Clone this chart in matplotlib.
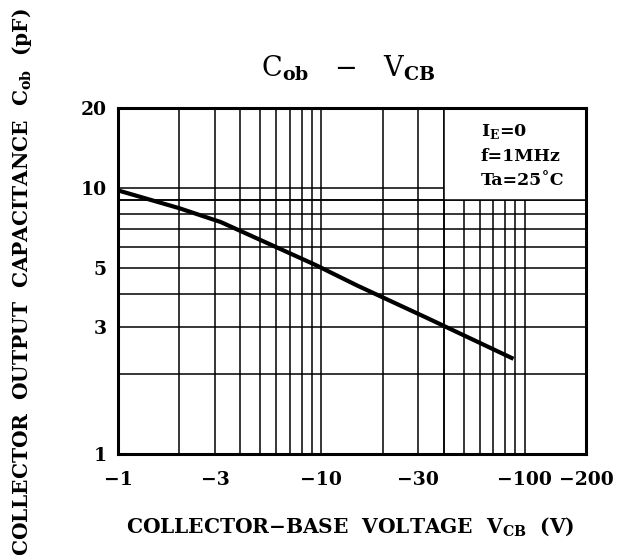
import matplotlib
matplotlib.use('Agg')
import matplotlib.pyplot as plt
from matplotlib.patches import Rectangle

# Cob - VCB curve (|VCB| in volts, Cob in pF)
vcb = [1, 2, 3.2, 5.2, 9.3, 15, 33, 88]
cob = [9.8, 8.4, 7.45, 6.3, 5.15, 4.3, 3.25, 2.28]

xticks = [1, 3, 10, 30, 100, 200]
xticklabels = ['\u22121', '\u22123', '\u221210', '\u221230', '\u2212100', '\u2212200']
yticks = [1, 3, 5, 10, 20]
yticklabels = ['1', '3', '5', '10', '20']

xgrid = [2, 3, 4, 5, 6, 7, 8, 9, 10, 20, 30, 40, 50, 60, 70, 80, 90, 100]
ygrid = [2, 3, 4, 5, 6, 7, 8, 9, 10]

plt.rcParams['font.family'] = 'DejaVu Serif'
plt.rcParams['mathtext.fontset'] = 'custom'
plt.rcParams['mathtext.rm'] = 'DejaVu Serif:bold'

fig = plt.figure(figsize=(6.36, 5.55), dpi=100)
ax = fig.add_axes([118 / 636, 101 / 555, 468 / 636, 346 / 555])
ax.set_xscale('log')
ax.set_yscale('log')
ax.set_xlim(1, 200)
ax.set_ylim(1, 20)

# grid lines
for x in xgrid:
    ax.axvline(x, color='black', lw=1.1, zorder=1)
for y in ygrid:
    ax.axhline(y, color='black', lw=1.1, zorder=1)

# blank box for the conditions text
ax.add_patch(Rectangle((40, 9), 200 - 40, 20 - 9, facecolor='white',
                       edgecolor='none', zorder=1.2))
ax.axvline(40, color='black', lw=1.1, zorder=1.5)
ax.axhline(9, color='black', lw=1.1, zorder=1.5)

ax.plot(vcb, cob, color='black', lw=3, zorder=3, solid_capstyle='butt')

ax.set_xticks(xticks)
ax.set_xticklabels(xticklabels)
ax.set_yticks(yticks)
ax.set_yticklabels(yticklabels)
ax.minorticks_off()
ax.tick_params(length=0, labelsize=13.5, pad=8)
ax.tick_params(axis='x', pad=12)
for lab in ax.get_xticklabels() + ax.get_yticklabels():
    lab.set_fontweight('bold')

for s in ax.spines.values():
    s.set_linewidth(2.2)
    s.set_zorder(4)

ax.text(0.775, 0.96, r'I$_{\mathrm{E}}$=0', transform=ax.transAxes,
        fontsize=12.5, fontweight='bold', va='top', ha='left', zorder=5)
ax.text(0.775, 0.885, 'f=1MHz', transform=ax.transAxes,
        fontsize=12.5, fontweight='bold', va='top', ha='left', zorder=5)
ax.text(0.775, 0.815, 'Ta=25\u02daC', transform=ax.transAxes,
        fontsize=12.5, fontweight='bold', va='top', ha='left', zorder=5)

fig.text(348 / 636, 1 - 68 / 555, 'C$_{\\mathrm{ob}}$   \u2212   V$_{\\mathrm{CB}}$',
         ha='center', va='center', fontsize=19.5)

fig.text(350 / 636, 1 - 527 / 555,
         'COLLECTOR\u2212BASE  VOLTAGE  V$_{\\mathrm{CB}}$  (V)',
         ha='center', va='center', fontsize=14.5, fontweight='bold')
fig.text(22 / 636, 1 - 282 / 555,
         'COLLECTOR  OUTPUT  CAPACITANCE  C$_{\\mathrm{ob}}$  (pF)',
         ha='center', va='center', rotation=90, fontsize=14.5, fontweight='bold')

fig.savefig('out.png', dpi=100, facecolor='white')
